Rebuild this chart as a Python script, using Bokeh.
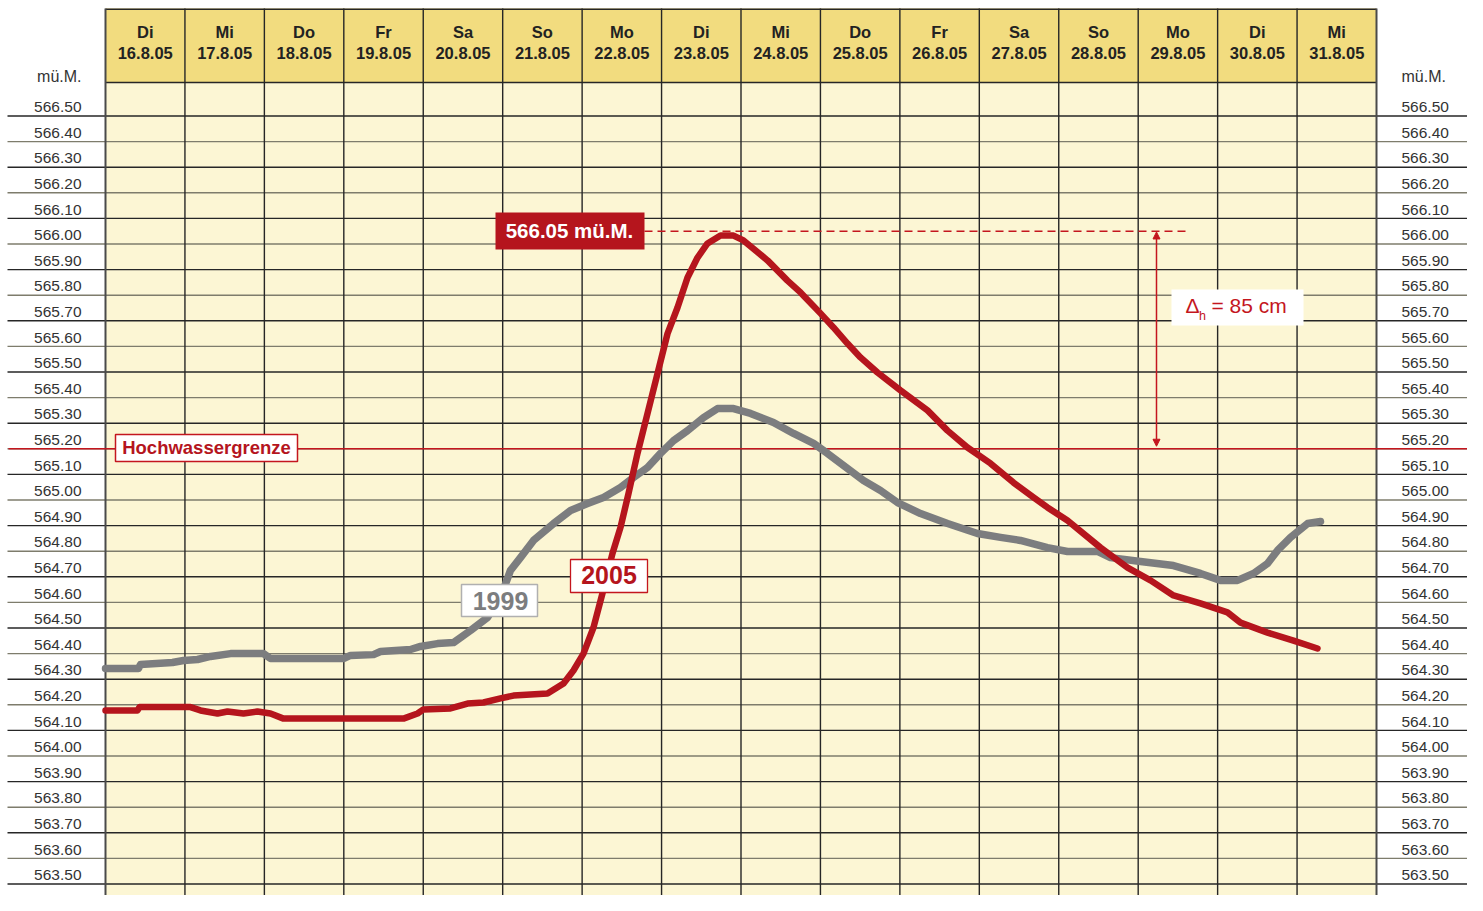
from bokeh.plotting import figure
from bokeh.models import Range1d, Arrow, NormalHead
from bokeh.core.properties import value
from bokeh.embed import file_html
from bokeh.resources import INLINE

# ---------------- data ----------------
days = ["Di", "Mi", "Do", "Fr", "Sa", "So", "Mo", "Di", "Mi", "Do", "Fr", "Sa", "So", "Mo", "Di", "Mi"]
dates = ["16.8.05", "17.8.05", "18.8.05", "19.8.05", "20.8.05", "21.8.05", "22.8.05", "23.8.05",
         "24.8.05", "25.8.05", "26.8.05", "27.8.05", "28.8.05", "29.8.05", "30.8.05", "31.8.05"]
level_ticks = [round(566.5 - 0.1 * i, 2) for i in range(31)]
tick_labels = ["%.2f" % v for v in level_ticks]

# time in days since 16.8.05 00:00, level in m ü.M.
t1999 = [0.00, 0.415, 0.44, 0.843, 0.982, 1.158, 1.322, 1.574, 1.989, 2.077, 2.996, 3.084, 3.374, 3.462,
         3.840, 3.965, 4.179, 4.381, 4.595, 4.809, 4.973, 5.098, 5.224, 5.388, 5.640, 5.854, 6.068, 6.269,
         6.483, 6.647, 6.823, 6.987, 7.151, 7.327, 7.528, 7.704, 7.906, 8.120, 8.409, 8.661, 8.913, 9.089,
         9.341, 9.542, 9.756, 9.970, 10.260, 10.600, 10.977, 11.267, 11.518, 11.858, 12.110, 12.488, 12.651,
         13.029, 13.444, 13.784, 14.036, 14.250, 14.452, 14.628, 14.754, 14.918, 15.132, 15.295]
h1999 = [564.342, 564.342, 564.357, 564.365, 564.373, 564.377, 564.389, 564.400, 564.400, 564.381, 564.381,
         564.393, 564.396, 564.408, 564.416, 564.428, 564.439, 564.443, 564.490, 564.541, 564.619, 564.725,
         564.775, 564.842, 564.908, 564.959, 564.986, 565.010, 565.049, 565.088, 565.127, 565.182, 565.232,
         565.271, 565.322, 565.357, 565.357, 565.338, 565.303, 565.260, 565.221, 565.182, 565.123, 565.076,
         565.037, 564.990, 564.947, 564.908, 564.869, 564.854, 564.842, 564.814, 564.799, 564.799, 564.775,
         564.760, 564.744, 564.713, 564.686, 564.686, 564.713, 564.752, 564.803, 564.854, 564.908, 564.916]

t2005 = [0.00, 0.403, 0.428, 1.070, 1.196, 1.410, 1.536, 1.737, 1.913, 2.077, 2.241, 3.751, 3.928, 4.003,
         4.343, 4.557, 4.758, 4.972, 5.136, 5.564, 5.766, 5.891, 6.017, 6.143, 6.256, 6.382, 6.483, 6.584,
         6.697, 6.823, 6.949, 7.075, 7.201, 7.327, 7.453, 7.578, 7.742, 7.906, 8.031, 8.334, 8.585, 8.749,
         9.001, 9.164, 9.341, 9.504, 9.718, 10.008, 10.348, 10.600, 10.851, 11.141, 11.430, 11.682, 11.858,
         12.110, 12.526, 12.866, 13.155, 13.444, 13.784, 14.124, 14.288, 14.628, 14.955, 15.257]
h2005 = [564.178, 564.178, 564.191, 564.191, 564.178, 564.166, 564.174, 564.166, 564.174, 564.166, 564.146,
         564.146, 564.166, 564.182, 564.186, 564.205, 564.209, 564.225, 564.236, 564.244, 564.283, 564.334,
         564.400, 564.502, 564.635, 564.791, 564.893, 565.025, 565.182, 565.338, 565.494, 565.650, 565.752,
         565.869, 565.947, 566.002, 566.033, 566.033, 566.014, 565.936, 565.857, 565.811, 565.729, 565.674,
         565.611, 565.557, 565.498, 565.428, 565.350, 565.271, 565.205, 565.143, 565.068, 565.010, 564.971,
         564.920, 564.814, 564.736, 564.686, 564.627, 564.596, 564.561, 564.521, 564.482, 564.451, 564.420]

flood_limit = 565.20
peak_2005 = 566.05
peak_label = "566.05 mü.M."
delta_label = "= 85 cm"

# ---------------- layout helpers (reference pixels -> data) ----------------
PPD = (1376 - 105) / 16.0
def X(px):
    return (px - 105) / PPD
def Y(py):
    return 566.5 - (py - 115.5) / 256.0

FONT = value("Liberation Sans")
RED = "#b5151d"
LRED = "#c4161e"
GRAY = "#7c7d7f"
HEADER = "#f2dc7f"
BODY = "#fcf6d4"
DARK = "#262626"
BASE_K = 0.37  # baseline compensation (em)

p = figure(width=1467, height=895, x_range=Range1d(X(0), X(1467)), y_range=Range1d(Y(895), Y(0)),
           output_backend="svg", toolbar_location=None, min_border=0,
           x_axis_type=None, y_axis_type=None)
p.grid.visible = False
p.outline_line_color = None
p.background_fill_color = "white"
p.border_fill_color = "white"


def label(xs, base_py, texts, size, align="left", color="#333333", bold=False):
    ys = [Y(b - BASE_K * size) for b in base_py]
    p.text(x=xs, y=ys, text=texts, text_font=FONT, text_font_style="bold" if bold else "normal",
           text_font_size="%.1fpx" % size, text_align=align, text_baseline="alphabetic", text_color=color)


n = len(days)
# backgrounds
p.quad(left=[0], right=[n], bottom=[Y(895)], top=[Y(82)], fill_color=BODY, line_color=None)
p.quad(left=[0], right=[n], bottom=[Y(82)], top=[Y(8)], fill_color=HEADER, line_color=None)

# horizontal level lines
cols = [DARK if i % 2 == 0 else "#7e7c6c" for i in range(len(level_ticks))]
p.segment(x0=[X(7)] * len(level_ticks), x1=[X(1474)] * len(level_ticks), y0=level_ticks, y1=level_ticks,
          line_color=cols, line_width=1.4)
# header borders
p.segment(x0=[0, 0], x1=[n, n], y0=[Y(8.7), Y(82)], y1=[Y(8.7), Y(82)], line_color=DARK, line_width=1.4)
# vertical column lines
vx = list(range(1, n))
p.segment(x0=vx, x1=vx, y0=[Y(895)] * len(vx), y1=[Y(8)] * len(vx), line_color=DARK, line_width=1.4)
p.segment(x0=[0, n], x1=[0, n], y0=[Y(895)] * 2, y1=[Y(8)] * 2, line_color="#4a4a4a", line_width=2)

# header labels
cx = [k + 0.5 for k in range(n)]
label(cx, [37.3] * n, days, 16.5, align="center", color="#222222", bold=True)
label(cx, [58.3] * n, dates, 16.5, align="center", color="#222222", bold=True)

# tick labels
tb = [115.5 + 25.6 * i - 3.0 for i in range(len(level_ticks))]
label([X(81)] * len(tb), tb, tick_labels, 15.5, align="right")
label([X(1401)] * len(tb), tb, tick_labels, 15.5, align="left")
label([X(81)], [81.5], ["mü.M."], 16, align="right")
label([X(1401)], [81.5], ["mü.M."], 16, align="left")

# flood limit line
p.segment(x0=[X(8)], x1=[X(1474)], y0=[flood_limit], y1=[flood_limit], line_color=LRED, line_width=1.6)

# data lines
p.line(t1999, h1999, line_color=GRAY, line_width=7.5, line_cap="round", line_join="round")
p.line(t2005, h2005, line_color=RED, line_width=6.5, line_cap="round", line_join="round")

# peak dashed line
p.segment(x0=[X(644)], x1=[X(1188)], y0=[peak_2005], y1=[peak_2005], line_color=LRED,
          line_width=1.4, line_dash="8 5")

# delta arrow
p.add_layout(Arrow(x_start=X(1156), x_end=X(1156), y_start=flood_limit + 0.01, y_end=peak_2005 - 0.003,
                   line_color=LRED, line_width=1.5,
                   start=NormalHead(size=7, fill_color=LRED, line_color=LRED),
                   end=NormalHead(size=7, fill_color=LRED, line_color=LRED)))

# label boxes
p.quad(left=[X(115)], right=[X(297)], top=[Y(434)], bottom=[Y(461)], fill_color="white",
       line_color=LRED, line_width=1.5)
label([X(206)], [453.5], ["Hochwassergrenze"], 18.5, align="center", color=RED, bold=True)

p.quad(left=[X(495)], right=[X(644)], top=[Y(212)], bottom=[Y(249)], fill_color=RED, line_color=None)
label([X(569)], [238], [peak_label], 20.5, align="center", color="white", bold=True)

p.quad(left=[X(461)], right=[X(537)], top=[Y(584)], bottom=[Y(616)], fill_color="white",
       line_color="#b0b0b0", line_width=1.5)
label([X(500)], [610], ["1999"], 25, align="center", color=GRAY, bold=True)

p.quad(left=[X(570)], right=[X(647)], top=[Y(559)], bottom=[Y(592)], fill_color="white",
       line_color=LRED, line_width=1.3)
label([X(608.5)], [584], ["2005"], 25, align="center", color=RED, bold=True)

p.quad(left=[X(1171)], right=[X(1303)], top=[Y(289)], bottom=[Y(325)], fill_color="white", line_color=None)
label([X(1185)], [313], ["Δ"], 21, color=LRED)
label([X(1198.5)], [320], ["h"], 12.5, color=LRED)
label([X(1211)], [313], [delta_label], 21, color=LRED)

open("out.html", "w").write(file_html(p, INLINE))
